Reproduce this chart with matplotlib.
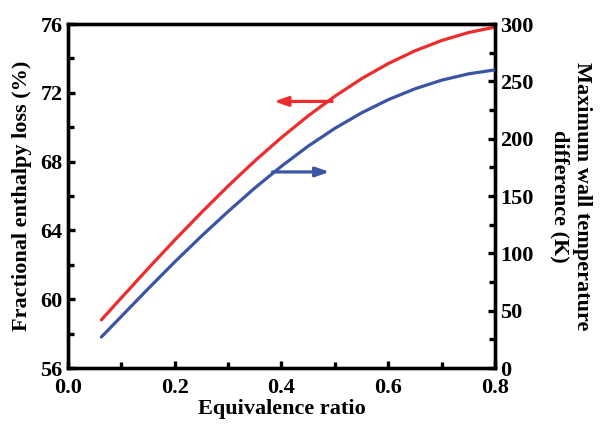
import matplotlib
matplotlib.use("Agg")
import matplotlib.pyplot as plt
from matplotlib.ticker import MultipleLocator, FormatStrFormatter

plt.rcParams["font.family"] = ["Liberation Serif", "DejaVu Serif"]
plt.rcParams["font.weight"] = "bold"

# Equivalence ratio sweep
phi = [0.0625, 0.1, 0.15, 0.2, 0.25, 0.3, 0.35, 0.4, 0.45, 0.5, 0.55, 0.6, 0.65, 0.7, 0.75, 0.8]
# Fractional enthalpy loss (%)
enthalpy_loss = [58.80, 60.08, 61.78, 63.44, 65.04, 66.58, 68.04, 69.40,
                 70.66, 71.80, 72.82, 73.70, 74.44, 75.04, 75.50, 75.82]
# Maximum wall temperature difference (K)
wall_dT = [27, 45, 69, 92.5, 115, 136.5, 157, 176,
           193.5, 209, 222.5, 234, 243.5, 251, 256.5, 260]

RED = "#ee2c2c"
BLUE = "#3b54a4"
FS = 16
LW = 2.3

fig = plt.figure(figsize=(6.0, 4.25), dpi=100)
ax = fig.add_axes([0.1133, 0.1341, 0.7117, 0.8094])
ax2 = ax.twinx()

ax.plot(phi, enthalpy_loss, color=RED, lw=LW, solid_capstyle="round",
        solid_joinstyle="round", zorder=3)
ax2.plot(phi, wall_dT, color=BLUE, lw=LW, solid_capstyle="round",
         solid_joinstyle="round", zorder=3)

ax.set_xlim(0, 0.8)
ax.set_ylim(56, 76)
ax2.set_ylim(0, 300)

ax.xaxis.set_major_locator(MultipleLocator(0.2))
ax.xaxis.set_minor_locator(MultipleLocator(0.1))
ax.yaxis.set_major_locator(MultipleLocator(4))
ax.yaxis.set_minor_locator(MultipleLocator(2))
ax2.yaxis.set_major_locator(MultipleLocator(50))
ax2.yaxis.set_minor_locator(MultipleLocator(25))
ax.xaxis.set_major_formatter(FormatStrFormatter("%.1f"))

for a in (ax, ax2):
    for s in a.spines.values():
        s.set_linewidth(2.4)
    a.tick_params(which="major", direction="in", length=5, width=2.4, labelsize=FS, pad=4)
    a.tick_params(which="minor", direction="in", length=4, width=2.4)
ax.tick_params(axis="y", which="both", right=False)
ax.tick_params(axis="x", which="both", top=False, pad=7)

ax.set_xlabel("Equivalence ratio", fontsize=FS, fontweight="bold", labelpad=1)
ax.set_ylabel("Fractional enthalpy loss (%)", fontsize=FS, fontweight="bold", labelpad=6)
ax2.set_ylabel("Maximum wall temperature\ndifference (K)", fontsize=FS, fontweight="bold",
               rotation=270, labelpad=42, multialignment="center")

# arrows pointing each curve to its axis
ax.annotate("", xy=(0.386, 71.5), xytext=(0.495, 71.5),
            arrowprops=dict(arrowstyle="-|>,head_length=0.8,head_width=0.28",
                            color=RED, lw=2.3, shrinkA=0, shrinkB=0))
ax2.annotate("", xy=(0.49, 171), xytext=(0.383, 171),
             arrowprops=dict(arrowstyle="-|>,head_length=0.8,head_width=0.28",
                             color=BLUE, lw=2.3, shrinkA=0, shrinkB=0))

fig.savefig("out.png", dpi=100)
